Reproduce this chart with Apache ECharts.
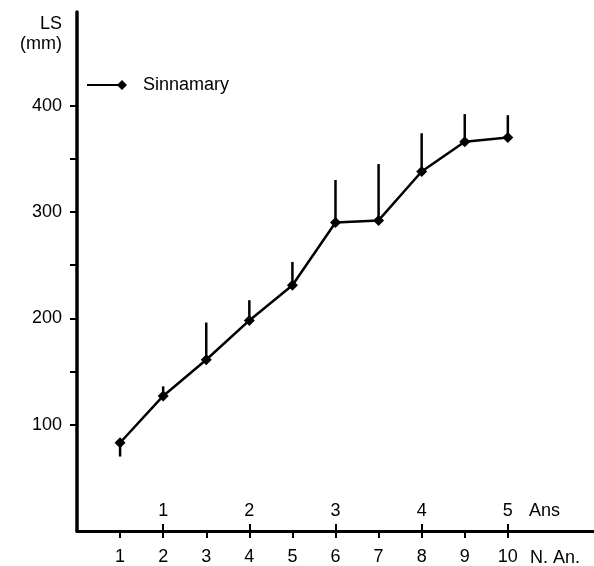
<!DOCTYPE html>
<html>
<head>
<meta charset="utf-8">
<script src="https://cdn.jsdelivr.net/npm/echarts@6/dist/echarts.min.js"></script>
<style>
  html, body { margin: 0; padding: 0; background: #fff; }
  #main { width: 594px; height: 566px; }
</style>
</head>
<body>
<div id="main"></div>
<script>
// age (N. An. = number of annuli) vs standard length, Sinnamary
var ages = [1, 2, 3, 4, 5, 6, 7, 8, 9, 10];
var lsMean = [83, 127, 161, 198, 231, 290, 292, 338, 366, 370];
var lsErrEnd = [70, 136, 196, 217, 253, 330, 345, 374, 392, 391];
var yearTicks = [2, 4, 6, 8, 10];
var yTicks = [100, 150, 200, 250, 300, 350, 400];
var yLabels = [100, 200, 300, 400];

var font = "Liberation Sans";

var lineData = ages.map(function(a, i) {
  return [a, lsMean[i]];
});
var errData = ages.map(function(a, i) {
  return [a, lsMean[i], lsErrEnd[i]];
});

var myChart = echarts.init(document.getElementById("main"));
var option = {
  animation: false,
  color: ["#000"],
  textStyle: { fontFamily: font, color: "#000" },
  grid: {
    left: 77,
    right: 0,
    top: 12,
    bottom: 33
  },
  legend: {
    left: 82,
    top: 71,
    itemWidth: 40,
    itemHeight: 10,
    icon: "path://M0,4 H32 V6 H0 Z M30,5 L35,0 L40,5 L35,10 Z",
    itemStyle: { color: "#000" },
    textStyle: { fontFamily: font, fontSize: 18, color: "#000", padding: [0, 0, 0, 11] },
    data: ["Sinnamary"]
  },
  xAxis: [
    {
      type: "value",
      min: 0,
      max: 12,
      interval: 1,
      splitLine: { show: false },
      axisLine: { lineStyle: { color: "#000", width: 3 } },
      axisTick: {
        customValues: ages,
        length: 7,
        lineStyle: { color: "#000", width: 2 }
      },
      axisLabel: {
        customValues: ages,
        margin: 17,
        fontSize: 18,
        color: "#000",
        fontFamily: font
      }
    },
    {
      type: "value",
      position: "bottom",
      min: 0,
      max: 12,
      interval: 1,
      splitLine: { show: false },
      axisLine: { show: false },
      axisTick: {
        inside: true,
        customValues: yearTicks,
        length: 7,
        lineStyle: { color: "#000", width: 2 }
      },
      axisLabel: {
        inside: true,
        customValues: yearTicks,
        margin: 11,
        fontSize: 18,
        color: "#000",
        fontFamily: font,
        formatter: function(v) {
          return v / 2;
        }
      }
    }
  ],
  yAxis: {
    type: "value",
    min: 0,
    max: 488,
    interval: 50,
    splitLine: { show: false },
    axisLine: { show: true, lineStyle: { color: "#000", width: 3.5 } },
    axisTick: {
      customValues: yTicks,
      length: 7,
      lineStyle: { color: "#000", width: 2 }
    },
    axisLabel: {
      customValues: yLabels,
      margin: 15,
      fontSize: 18,
      color: "#000",
      fontFamily: font
    }
  },
  graphic: [
    {
      type: "text",
      x: 62,
      y: 24,
      style: {
        text: "LS",
        fontFamily: font,
        fontSize: 18,
        fill: "#000",
        align: "right",
        verticalAlign: "middle"
      }
    },
    {
      type: "text",
      x: 62,
      y: 44,
      style: {
        text: "(mm)",
        fontFamily: font,
        fontSize: 18,
        fill: "#000",
        align: "right",
        verticalAlign: "middle"
      }
    },
    {
      type: "text",
      x: 529,
      y: 511,
      style: {
        text: "Ans",
        fontFamily: font,
        fontSize: 18,
        fill: "#000",
        align: "left",
        verticalAlign: "middle"
      }
    },
    {
      type: "text",
      x: 530,
      y: 558,
      style: {
        text: "N. An.",
        fontFamily: font,
        fontSize: 18,
        fill: "#000",
        align: "left",
        verticalAlign: "middle"
      }
    }
  ],
  series: [
    {
      name: "Sinnamary",
      type: "custom",
      xAxisIndex: 0,
      data: errData,
      z: 1,
      itemStyle: { color: "#000" },
      renderItem: function(params, api) {
        var p0 = api.coord([api.value(0), api.value(1)]);
        var p1 = api.coord([api.value(0), api.value(2)]);
        return {
          type: "line",
          shape: { x1: p0[0], y1: p0[1], x2: p1[0], y2: p1[1] },
          style: { stroke: "#000", lineWidth: 2.5 }
        };
      }
    },
    {
      name: "Sinnamary",
      type: "line",
      xAxisIndex: 0,
      data: lineData,
      z: 2,
      symbol: "diamond",
      symbolSize: 11,
      itemStyle: { color: "#000" },
      lineStyle: { color: "#000", width: 2.5 }
    }
  ]
};
myChart.setOption(option);
</script>
</body>
</html>
